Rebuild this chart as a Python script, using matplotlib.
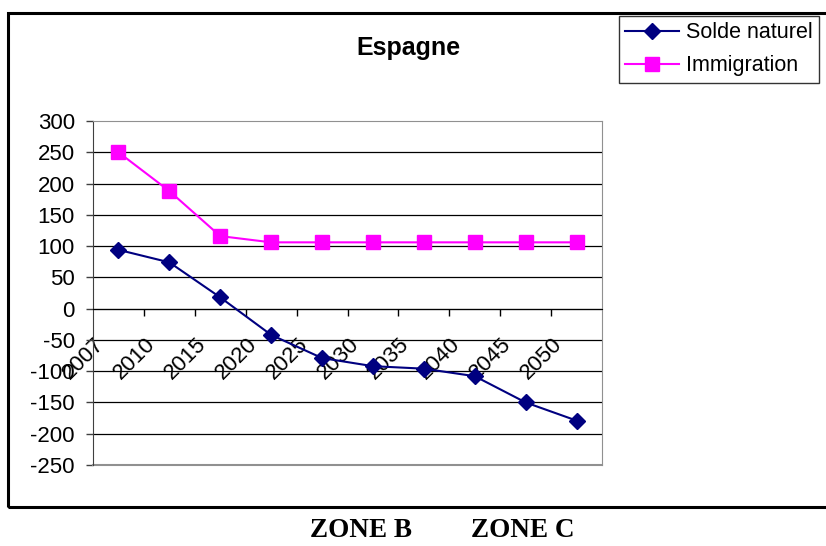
import matplotlib
matplotlib.use("Agg")
import matplotlib.pyplot as plt
from matplotlib.patches import Rectangle
from matplotlib.transforms import ScaledTranslation

plt.rcParams['font.family'] = ['Liberation Sans', 'DejaVu Sans']
plt.rcParams['axes.unicode_minus'] = False

# data
years = ["2007", "2010", "2015", "2020", "2025", "2030", "2035", "2040", "2045", "2050"]
solde_naturel = [94, 74, 18, -42, -79, -92, -96, -108, -150, -179]
immigration = [250, 188, 116, 106, 106, 106, 106, 106, 106, 106]
y_ticks = list(range(-250, 301, 50))

W, H = 826, 546
fig = plt.figure(figsize=(W / 100, H / 100), dpi=100)

# outer chart border (runs off the right edge)
fig.patches.append(Rectangle((8 / W, 1 - 507 / H), 830 / W, (507 - 13) / H,
                             transform=fig.transFigure, fill=False,
                             edgecolor="black", linewidth=2.2))

ax = fig.add_axes([93 / W, 1 - 465 / H, (602 - 93) / W, (465 - 121) / H])
x = list(range(len(years)))

ax.plot(x, solde_naturel, color="#000080", marker="D", markersize=8.5,
        linewidth=1.5, label="Solde naturel", zorder=3)
ax.plot(x, immigration, color="#FF00FF", marker="s", markersize=9.5,
        linewidth=1.5, label="Immigration", zorder=3)

ax.set_xlim(-0.5, len(years) - 0.5)
ax.set_ylim(-250, 300)

# horizontal gridlines
for v in y_ticks[1:-1]:
    ax.axhline(v, color="black", linewidth=0.9, zorder=1)

ax.set_yticks(y_ticks)
ax.tick_params(axis="y", labelsize=16, length=5, width=1, pad=8, color="#404040")

# x axis sits on y = 0
ax.spines["bottom"].set_position(("data", 0))
ax.spines["bottom"].set_color("black")
ax.spines["left"].set_color("#404040")
ax.spines["top"].set_color("#909090")
ax.spines["right"].set_color("#909090")
ax.axhline(-250, color="#909090", linewidth=1.5, clip_on=False)

ax.set_xticks(x)
ax.set_xticklabels(years, rotation=45, ha="right", va="top", fontsize=16)
ax.set_xticks([i + 0.5 for i in range(len(years) - 1)], minor=True)
ax.tick_params(axis="x", which="major", length=0, pad=18)
ax.tick_params(axis="x", which="minor", length=5, width=1, color="black")
for lab in ax.get_xticklabels():
    lab.set_transform(lab.get_transform() + ScaledTranslation(-10 / 100, 0, fig.dpi_scale_trans))

fig.text(408 / W, 1 - 48 / H, "Espagne", ha="center", va="center",
         fontsize=18, fontweight="bold")

leg = fig.legend(loc="upper left", bbox_to_anchor=(619 / W, 1 - 16 / H),
                 fontsize=15.5, frameon=True, fancybox=False, shadow=False,
                 handlelength=2.5, handletextpad=0.3, borderpad=0.3,
                 labelspacing=0.55, borderaxespad=0)
leg.get_frame().set_edgecolor("black")
leg.get_frame().set_linewidth(1)

fig.text(361 / W, 1 - 537 / H, "ZONE B", ha="center", va="baseline",
         fontsize=19.5, fontweight="bold", family=["Liberation Serif", "DejaVu Serif"])
fig.text(523 / W, 1 - 537 / H, "ZONE C", ha="center", va="baseline",
         fontsize=19.5, fontweight="bold", family=["Liberation Serif", "DejaVu Serif"])

fig.savefig("out.png", dpi=100)
